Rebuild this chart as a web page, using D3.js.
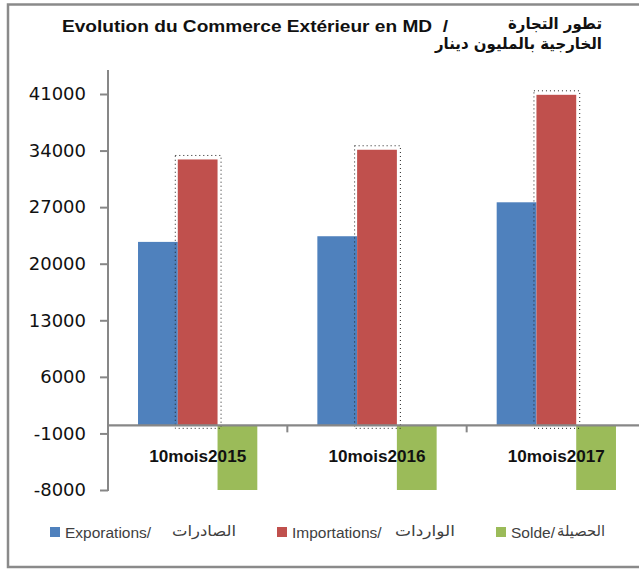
<!DOCTYPE html>
<html><head><meta charset="utf-8">
<script src="https://cdn.jsdelivr.net/npm/d3@7"></script>
<style>
html,body{margin:0;padding:0;background:#fff;}
svg{display:block;}
</style></head>
<body>
<svg id="chart" width="639" height="569"></svg>
<script>
// ---- data ----
const categories = ["10mois2015", "10mois2016", "10mois2017"];
const exportations = [22700, 23400, 27600];
const importations = [32900, 34100, 40900];
const solde = [-10200, -10700, -13300];
const yTicks = [-8000, -1000, 6000, 13000, 20000, 27000, 34000, 41000];
const seriesNames = ["Exporations/", "Importations/", "Solde/"];
const seriesArabic = ["الصادرات", "الواردات", "الحصيلة"];
const titleLatin = "Evolution du Commerce Extérieur en MD  /";
const titleArabic1 = "تطور التجارة";
const titleArabic2 = "الخارجية بالمليون دينار";

const colors = ["#4F81BD", "#C0504D", "#9BBB59"];
const series = [exportations, importations, solde];

const svg = d3.select("#chart");
const axisColor = "#878787";

// frame
svg.append("rect").attr("x", 8).attr("y", 4.5).attr("width", 700).attr("height", 562.5)
  .attr("fill", "none").attr("stroke", "#8a8a8a").attr("stroke-width", 2.5);

// scales
const y = d3.scaleLinear().domain([-8000, 41000]).range([490, 94]).clamp(true);
const x0 = d3.scaleBand().domain(categories).range([108, 646]).padding(0);
const x1 = d3.scaleBand().domain([0, 1, 2]).range([0, x0.bandwidth()]).paddingInner(0).paddingOuter(0.755);

// bars
const g = svg.append("g");
series.forEach((vals, si) => {
  g.selectAll(null).data(vals).enter().append("rect")
    .attr("x", (d, i) => x0(categories[i]) + x1(si))
    .attr("width", x1.bandwidth())
    .attr("y", d => Math.min(y(d), y(0)))
    .attr("height", d => Math.abs(y(d) - y(0)))
    .attr("fill", colors[si]);
});

// dotted outline around import bars
g.selectAll(null).data(importations).enter().append("rect")
  .attr("x", (d, i) => x0(categories[i]) + x1(1) - 2.5)
  .attr("width", x1.bandwidth() + 6)
  .attr("y", d => y(d) - 4)
  .attr("height", d => y(0) - y(d) + 7)
  .attr("fill", "none").attr("stroke", "#222").attr("stroke-width", 1)
  .attr("stroke-dasharray", "1,3");

// y axis
const yAxis = d3.axisLeft(y).tickValues(yTicks).tickSize(8).tickPadding(14).tickFormat(d => String(d));
const ya = svg.append("g").attr("transform", "translate(108,0)").call(yAxis);
ya.select(".domain").remove();
ya.selectAll(".tick line").attr("stroke", axisColor).attr("stroke-width", 2);
ya.selectAll(".tick text").attr("font-family", "DejaVu Sans").attr("font-size", 18).attr("fill", "#111");
svg.append("line").attr("x1", 108).attr("x2", 108).attr("y1", 70).attr("y2", 491)
  .attr("stroke", axisColor).attr("stroke-width", 2);

// x axis at zero
const xa = svg.append("g").attr("transform", `translate(0,${y(0)})`);
xa.append("line").attr("x1", 107).attr("x2", 646).attr("y1", 0).attr("y2", 0)
  .attr("stroke", axisColor).attr("stroke-width", 2.2);
xa.selectAll(null).data(categories.slice(1)).enter().append("line")
  .attr("x1", d => x0(d)).attr("x2", d => x0(d)).attr("y1", 0).attr("y2", 7)
  .attr("stroke", axisColor).attr("stroke-width", 2);

// category labels (drawn on top)
svg.selectAll(null).data(categories).enter().append("text")
  .attr("x", d => x0(d) + x0.bandwidth() / 2)
  .attr("y", 462)
  .attr("text-anchor", "middle")
  .attr("font-family", "Liberation Sans").attr("font-weight", "bold").attr("font-size", 16)
  .attr("textLength", 97).attr("lengthAdjust", "spacingAndGlyphs")
  .attr("fill", "#111")
  .text(d => d);

// title
svg.append("text").attr("x", 62).attr("y", 32)
  .attr("font-family", "Liberation Sans").attr("font-weight", "bold").attr("font-size", 17)
  .attr("textLength", 386).attr("lengthAdjust", "spacingAndGlyphs")
  .attr("fill", "#111").style("white-space", "pre").text(titleLatin);
svg.append("text").attr("x", 602).attr("y", 29).attr("text-anchor", "end")
  .attr("font-family", "DejaVu Sans").attr("font-weight", "bold").attr("font-size", 16)
  .attr("textLength", 94).attr("lengthAdjust", "spacingAndGlyphs")
  .attr("fill", "#111").text(titleArabic1);
svg.append("text").attr("x", 602).attr("y", 49).attr("text-anchor", "end")
  .attr("font-family", "DejaVu Sans").attr("font-weight", "bold").attr("font-size", 16)
  .attr("textLength", 167).attr("lengthAdjust", "spacingAndGlyphs")
  .attr("fill", "#111").text(titleArabic2);

// legend
const legendSquareX = [50, 277, 496];
const legendArabicEnd = [236, 455, 605];
const legendArabicWidth = [64, 60, 48];
const legend = svg.append("g");
seriesNames.forEach((name, i) => {
  legend.append("rect").attr("x", legendSquareX[i]).attr("y", 527).attr("width", 10).attr("height", 10)
    .attr("fill", colors[i]);
  legend.append("text").attr("x", legendSquareX[i] + 15).attr("y", 537.5)
    .attr("font-family", "Liberation Sans").attr("font-size", 15.5).attr("fill", "#404040")
    .text(name);
  legend.append("text").attr("x", legendArabicEnd[i]).attr("y", 536)
    .attr("text-anchor", "end")
    .attr("font-family", "DejaVu Sans").attr("font-size", 15)
    .attr("textLength", legendArabicWidth[i]).attr("lengthAdjust", "spacingAndGlyphs")
    .attr("fill", "#404040")
    .text(seriesArabic[i]);
});
</script>
</body></html>
